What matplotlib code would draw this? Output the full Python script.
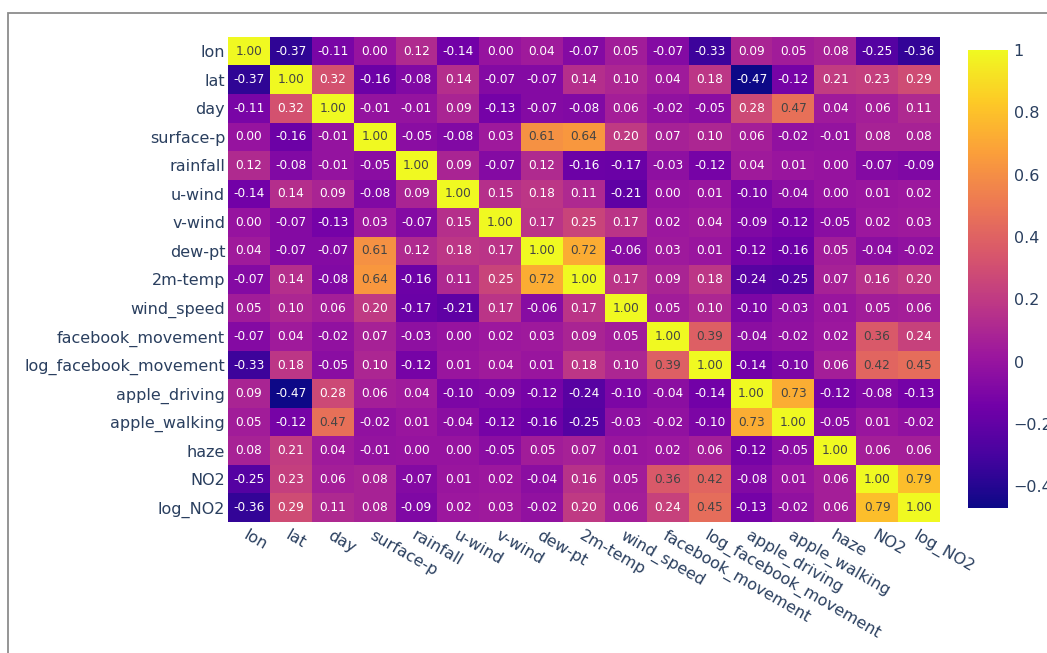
import matplotlib.pyplot as plt
import matplotlib.patches as patches
from matplotlib.colors import LinearSegmentedColormap
import numpy as np

# Correlation matrix of the weather / mobility / NO2 features
labels = ["lon", "lat", "day", "surface-p", "rainfall", "u-wind", "v-wind",
          "dew-pt", "2m-temp", "wind_speed", "facebook_movement",
          "log_facebook_movement", "apple_driving", "apple_walking", "haze",
          "NO2", "log_NO2"]

lon = [1.00, -0.37, -0.11, 0.00, 0.12, -0.14, 0.00, 0.04, -0.07, 0.05, -0.07, -0.33, 0.09, 0.05, 0.08, -0.25, -0.36]
lat = [-0.37, 1.00, 0.32, -0.16, -0.08, 0.14, -0.07, -0.07, 0.14, 0.10, 0.04, 0.18, -0.47, -0.12, 0.21, 0.23, 0.29]
day = [-0.11, 0.32, 1.00, -0.01, -0.01, 0.09, -0.13, -0.07, -0.08, 0.06, -0.02, -0.05, 0.28, 0.47, 0.04, 0.06, 0.11]
surface_p = [0.00, -0.16, -0.01, 1.00, -0.05, -0.08, 0.03, 0.61, 0.64, 0.20, 0.07, 0.10, 0.06, -0.02, -0.01, 0.08, 0.08]
rainfall = [0.12, -0.08, -0.01, -0.05, 1.00, 0.09, -0.07, 0.12, -0.16, -0.17, -0.03, -0.12, 0.04, 0.01, 0.00, -0.07, -0.09]
u_wind = [-0.14, 0.14, 0.09, -0.08, 0.09, 1.00, 0.15, 0.18, 0.11, -0.21, 0.00, 0.01, -0.10, -0.04, 0.00, 0.01, 0.02]
v_wind = [0.00, -0.07, -0.13, 0.03, -0.07, 0.15, 1.00, 0.17, 0.25, 0.17, 0.02, 0.04, -0.09, -0.12, -0.05, 0.02, 0.03]
dew_pt = [0.04, -0.07, -0.07, 0.61, 0.12, 0.18, 0.17, 1.00, 0.72, -0.06, 0.03, 0.01, -0.12, -0.16, 0.05, -0.04, -0.02]
temp_2m = [-0.07, 0.14, -0.08, 0.64, -0.16, 0.11, 0.25, 0.72, 1.00, 0.17, 0.09, 0.18, -0.24, -0.25, 0.07, 0.16, 0.20]
wind_speed = [0.05, 0.10, 0.06, 0.20, -0.17, -0.21, 0.17, -0.06, 0.17, 1.00, 0.05, 0.10, -0.10, -0.03, 0.01, 0.05, 0.06]
facebook_movement = [-0.07, 0.04, -0.02, 0.07, -0.03, 0.00, 0.02, 0.03, 0.09, 0.05, 1.00, 0.39, -0.04, -0.02, 0.02, 0.36, 0.24]
log_facebook_movement = [-0.33, 0.18, -0.05, 0.10, -0.12, 0.01, 0.04, 0.01, 0.18, 0.10, 0.39, 1.00, -0.14, -0.10, 0.06, 0.42, 0.45]
apple_driving = [0.09, -0.47, 0.28, 0.06, 0.04, -0.10, -0.09, -0.12, -0.24, -0.10, -0.04, -0.14, 1.00, 0.73, -0.12, -0.08, -0.13]
apple_walking = [0.05, -0.12, 0.47, -0.02, 0.01, -0.04, -0.12, -0.16, -0.25, -0.03, -0.02, -0.10, 0.73, 1.00, -0.05, 0.01, -0.02]
haze = [0.08, 0.21, 0.04, -0.01, 0.00, 0.00, -0.05, 0.05, 0.07, 0.01, 0.02, 0.06, -0.12, -0.05, 1.00, 0.06, 0.06]
no2 = [-0.25, 0.23, 0.06, 0.08, -0.07, 0.01, 0.02, -0.04, 0.16, 0.05, 0.36, 0.42, -0.08, 0.01, 0.06, 1.00, 0.79]
log_no2 = [-0.36, 0.29, 0.11, 0.08, -0.09, 0.02, 0.03, -0.02, 0.20, 0.06, 0.24, 0.45, -0.13, -0.02, 0.06, 0.79, 1.00]

corr = np.array([lon, lat, day, surface_p, rainfall, u_wind, v_wind, dew_pt,
                 temp_2m, wind_speed, facebook_movement, log_facebook_movement,
                 apple_driving, apple_walking, haze, no2, log_no2])

# 10-stop plasma scale, linearly interpolated
plasma_stops = ["#0d0887", "#46039f", "#7201a8", "#9c179e", "#bd3786",
                "#d8576b", "#ed7953", "#fb9f3a", "#fdca26", "#f0f921"]
cmap = LinearSegmentedColormap.from_list("plasma10", plasma_stops)

font_color = "#2a3f5f"
plt.rcParams["font.family"] = "DejaVu Sans"

fig = plt.figure(figsize=(10.47, 6.53), dpi=100)
W, H = 1047, 653

# grey frame around the plot area
fig.patches.append(patches.Rectangle((8 / W, -0.1), 1.2, 1 - 13 / H + 0.1,
                                     transform=fig.transFigure, fill=False,
                                     edgecolor="#8c8c8c", linewidth=1.3))

ax = fig.add_axes([228 / W, 1 - 522 / H, 712 / W, 485 / H])
vmin, vmax = corr.min(), corr.max()
im = ax.imshow(corr, cmap=cmap, vmin=vmin, vmax=vmax, aspect="auto",
               interpolation="nearest")

n = len(labels)
for i in range(n):
    for j in range(n):
        v = corr[i, j]
        r, g, b, _ = cmap((v - vmin) / (vmax - vmin))
        lum = 0.299 * r + 0.587 * g + 0.114 * b
        color = "#444444" if lum > 0.5 else "white"
        ax.text(j, i, f"{v:.2f}", ha="center", va="center", fontsize=8.7,
                color=color)

ax.set_xticks(range(n))
ax.set_yticks(range(n))
ax.set_xticklabels(labels, rotation=-30, ha="left", va="top",
                   rotation_mode="anchor", fontsize=11.5, color=font_color)
ax.set_yticklabels(labels, fontsize=11.5, color=font_color)
ax.tick_params(axis="y", length=0, pad=2)
ax.tick_params(axis="x", length=0, pad=4)
for s in ax.spines.values():
    s.set_visible(False)

cax = fig.add_axes([968 / W, 1 - 508 / H, 40 / W, 458 / H])
cb = fig.colorbar(im, cax=cax, ticks=[-0.4, -0.2, 0, 0.2, 0.4, 0.6, 0.8, 1])
cb.ax.set_yticklabels(["\u22120.4", "\u22120.2", "0", "0.2", "0.4", "0.6", "0.8", "1"])
cb.outline.set_visible(False)
cb.ax.tick_params(length=0, pad=4, labelsize=11.5, labelcolor=font_color)

fig.savefig("out.png", dpi=100)
